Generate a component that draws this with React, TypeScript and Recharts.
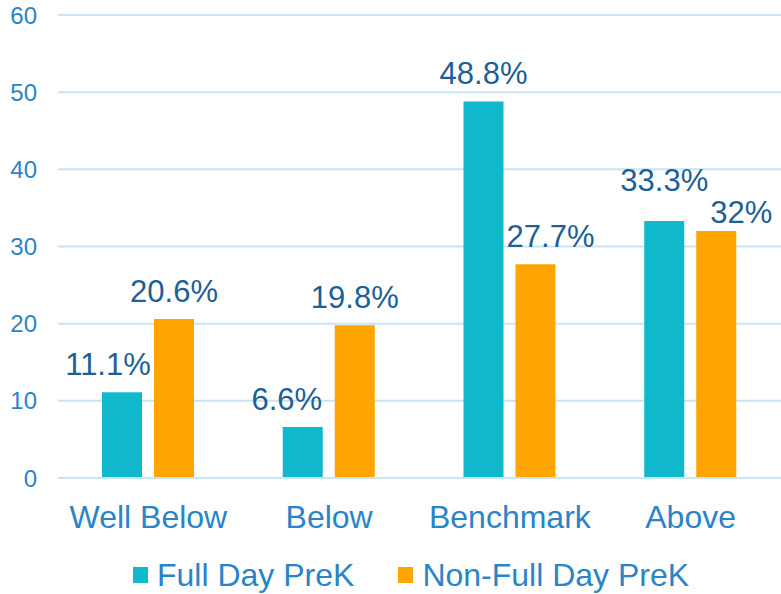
import React from "react";
import { BarChart, Bar, XAxis, YAxis, CartesianGrid, Legend, LabelList } from "recharts";

const categories = ["Well Below", "Below", "Benchmark", "Above"];
const fullDay = [11.1, 6.6, 48.8, 33.3];
const nonFullDay = [20.6, 19.8, 27.7, 32];
const yTicks = [0, 10, 20, 30, 40, 50, 60];
const seriesNames = ["Full Day PreK", "Non-Full Day PreK"];

// label nudges (dx, dy) mimicking the hand-placed labels of the original
const fullDayNudge = [[-14, 0], [-16, 0], [0, 0], [0, -13]];
const nonFullNudge = [[0, 0], [0, 0], [15, 0], [25, 9]];

const data = categories.map((c, i) => ({ name: c, full: fullDay[i], nonFull: nonFullDay[i] }));

const FONT = "'Liberation Sans', Arial, Helvetica, sans-serif";
const TEAL = "#10B8CC";
const ORANGE = "#FFA502";
const AXIS_TEXT = "#2A84C6";
const LABEL_TEXT = "#1D5F97";
const GRID = "#C8E4F6";

const makeLabel = (nudge: number[][]) => (props: any) => {
  const { x, y, width, value, index } = props;
  const [dx, dy] = nudge[index] || [0, 0];
  return (
    <text
      x={Number(x) + Number(width) / 2 + dx}
      y={Number(y) - 17 + dy}
      textAnchor="middle"
      fill={LABEL_TEXT}
      fontSize={31}
      fontFamily={FONT}
    >
      {`${value}%`}
    </text>
  );
};

const LegendContent = () => (
  <div
    style={{
      height: 38,
      display: "flex",
      alignItems: "center",
      paddingLeft: 133,
      fontFamily: FONT,
      fontSize: 32,
      color: AXIS_TEXT,
      lineHeight: "38px",
    }}
  >
    <span style={{ display: "inline-block", width: 15, height: 16, background: TEAL, marginRight: 9 }} />
    <span style={{ marginRight: 44 }}>{seriesNames[0]}</span>
    <span style={{ display: "inline-block", width: 15, height: 16, background: ORANGE, marginRight: 9 }} />
    <span>{seriesNames[1]}</span>
  </div>
);

export default function App() {
  return (
    <div style={{ position: "absolute", left: 0, top: 0, width: 781, height: 594, background: "#fff" }}>
      <BarChart
        width={781}
        height={594}
        data={data}
        margin={{ top: 15, right: 0, left: 0, bottom: 0 }}
        barSize={40}
        barGap={12}
      >
        <CartesianGrid vertical={false} stroke={GRID} strokeWidth={2} />
        <XAxis
          dataKey="name"
          height={78}
          axisLine={{ stroke: GRID, strokeWidth: 2 }}
          tickLine={false}
          tickSize={0}
          tickMargin={27}
          tick={{ fill: AXIS_TEXT, fontSize: 32, fontFamily: FONT }}
          interval={0}
        />
        <YAxis
          width={58}
          domain={[0, 60]}
          ticks={yTicks}
          axisLine={false}
          tickLine={false}
          tickSize={0}
          tickMargin={21}
          tick={{ fill: AXIS_TEXT, fontSize: 24, fontFamily: FONT }}
        />
        <Legend verticalAlign="bottom" content={<LegendContent />} />
        <Bar dataKey="full" name={seriesNames[0]} fill={TEAL} isAnimationActive={false}>
          <LabelList dataKey="full" content={makeLabel(fullDayNudge)} />
        </Bar>
        <Bar dataKey="nonFull" name={seriesNames[1]} fill={ORANGE} isAnimationActive={false}>
          <LabelList dataKey="nonFull" content={makeLabel(nonFullNudge)} />
        </Bar>
      </BarChart>
    </div>
  );
}
